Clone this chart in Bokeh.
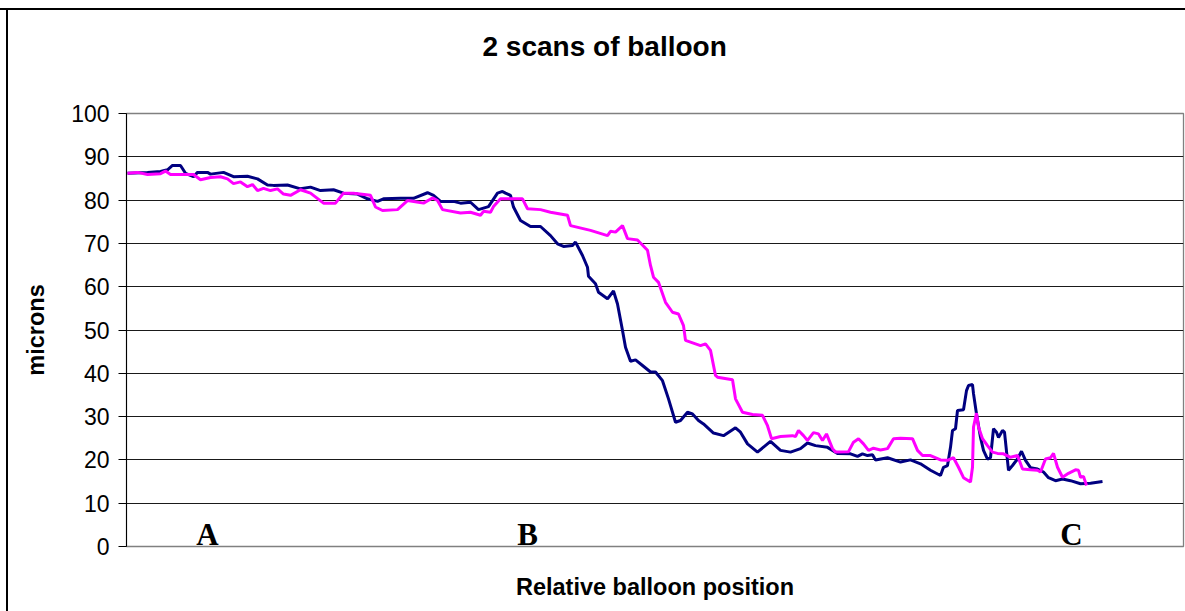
from bokeh.plotting import figure
from bokeh.models import SingleIntervalTicker, Label
from bokeh.embed import file_html
from bokeh.resources import INLINE

# Relative balloon position (arbitrary units) and thickness in microns
scan1_x = [1, 21, 34, 41, 46, 54, 59, 67, 71, 81, 84, 97, 107, 121, 131, 141, 147, 161, 174, 184,
           194, 207, 217, 231, 241, 251, 257, 274, 287, 301, 307, 314, 327, 334, 344, 352, 362, 371,
           376, 379, 384, 387, 394, 404, 414, 424, 431, 437, 446, 449, 456, 461, 462, 469, 472, 481,
           487, 491, 496, 499, 504, 509, 516, 524, 529, 536, 542, 549, 554, 561, 566, 572, 577, 587,
           597, 609, 614, 621, 631, 644, 654, 664, 674, 681, 689, 701, 711, 724, 731, 736, 741, 746,
           749, 761, 774, 784, 794, 804, 814, 817, 821, 824, 826, 829, 831, 837, 840, 842, 846, 847,
           850, 854, 857, 861, 864, 867, 870, 872, 876, 878, 882, 886, 891, 895, 899, 904, 911, 917,
           922, 929, 936, 944, 954, 964, 976]
scan1_y = [86.2, 86.4, 86.6, 87, 88, 88, 86.2, 85.4, 86.4, 86.4, 86, 86.4, 85.4, 85.5, 84.9, 83.5,
           83.4, 83.5, 82.6, 83, 82.2, 82.4, 81.6, 81.4, 80.3, 79.7, 80.3, 80.4, 80.4, 81.7, 81.1,
           79.7, 79.7, 79.3, 79.5, 77.8, 78.5, 81.6, 82, 81.6, 81.1, 78.4, 75.3, 73.9, 73.9, 71.8,
           69.9, 69.3, 69.5, 70.3, 67.2, 64.5, 62.4, 60.7, 58.7, 57.2, 59, 56, 49.9, 46, 42.8, 43.1,
           41.8, 40.3, 40.3, 38.3, 34.1, 28.7, 29.1, 31, 30.6, 29.1, 28.3, 26.2, 25.6, 27.4, 26.4,
           23.7, 21.8, 24.3, 22.2, 21.8, 22.6, 23.9, 23.3, 22.9, 21.5, 21.4, 20.8, 21.4, 21, 21.2,
           20, 20.5, 19.5, 20, 19.1, 17.6, 16.4, 18.3, 18.7, 22.9, 26.8, 27.2, 31.4, 31.6, 36, 37.2,
           37.4, 35.3, 30.6, 25.2, 22.2, 20.2, 20.5, 27.2, 26.4, 25.2, 26.8, 26.4, 17.6, 18.7, 20.2,
           22, 19.9, 18.2, 17.9, 17.2, 15.9, 15.2, 15.6, 15.2, 14.5, 14.6, 15]

scan2_x = [1, 11, 21, 34, 39, 44, 54, 67, 74, 84, 94, 101, 107, 114, 121, 126, 131, 137, 144, 151,
           157, 164, 174, 184, 197, 209, 217, 227, 244, 249, 256, 271, 281, 292, 297, 306, 311, 316,
           334, 344, 354, 357, 364, 367, 374, 396, 401, 414, 424, 441, 444, 464, 481, 484, 489, 496,
           501, 511, 521, 524, 527, 532, 539, 546, 552, 557, 559, 574, 579, 584, 589, 591, 606, 609,
           616, 626, 636, 641, 645, 654, 666, 669, 672, 677, 681, 687, 692, 696, 700, 706, 709, 722,
           727, 732, 737, 742, 747, 754, 761, 767, 774, 786, 791, 796, 804, 814, 821, 827, 832, 837,
           844, 846, 847, 850, 852, 856, 861, 866, 871, 877, 884, 891, 896, 904, 911, 914, 919, 924,
           927, 931, 936, 942, 949, 952, 954, 957, 960]
scan2_y = [86.2, 86.4, 85.9, 86.1, 86.7, 85.9, 85.9, 85.9, 84.7, 85.2, 85.4, 84.9, 83.8, 84.2, 83.1,
           83.6, 82.2, 82.7, 82.2, 82.6, 81.4, 81.1, 82.4, 81.6, 79.3, 79.3, 81.6, 81.6, 81.1, 78.4,
           77.6, 77.8, 79.9, 79.5, 79.3, 80.5, 79.9, 77.8, 77, 77.2, 76.5, 77.4, 77.2, 78.5, 80.3,
           80.3, 78, 77.8, 77.2, 76.5, 74.1, 73, 71.8, 72.8, 72.6, 74.1, 71.1, 70.8, 68.4, 64.9, 62.2,
           61, 56.4, 54.1, 53.7, 51, 47.6, 46.4, 46.8, 45.3, 39.5, 39.1, 38.5, 34.1, 31, 30.5, 30.3,
           27.9, 24.9, 25.4, 25.6, 25.4, 26.8, 25.6, 24.5, 26.3, 26, 24.5, 26, 22.6, 21.8, 21.9, 24.1,
           24.9, 23.7, 22.2, 22.7, 22.3, 22.6, 24.9, 25, 24.9, 22.2, 21, 21, 20, 19.9, 20.5, 18.3,
           15.9, 14.9, 18.3, 27.6, 30.8, 27.6, 24.9, 23.3, 21.8, 21.5, 21.4, 20.6, 21, 17.9, 17.7,
           17.6, 17.2, 20.2, 20.5, 21.5, 18.3, 16, 16.9, 17.7, 17.6, 16, 16.2, 14.1]

marker_text = ["A", "B", "C"]
marker_x = [81, 401, 945]
marker_y = [2.8, 2.8, 2.8]

p = figure(width=1185, height=648, output_backend="svg", toolbar_location=None,
           x_range=(0, 1057), y_range=(0, 100),
           min_border_left=126, min_border_right=2, min_border_top=150, min_border_bottom=65)

# chart-area border (top and left edges visible in the window), drawn behind a transparent canvas border
p.styles = {"margin-top": "-37px",
            "background": ("linear-gradient(#000,#000) 0px 45px / 100% 2px no-repeat, "
                           "linear-gradient(#000,#000) 6px 45px / 2px 100% no-repeat, #ffffff")}

p.title.text = "2 scans of balloon"
p.title.text_font = "Liberation Sans"
p.title.text_font_size = "28px"
p.title.text_font_style = "bold"
p.title.text_color = "black"
p.title.align = "left"
p.title.offset = 356
p.title.standoff = 104

p.outline_line_color = "#808080"
p.outline_line_width = 1.3
p.background_fill_color = "white"
p.border_fill_alpha = 0

p.xgrid.grid_line_color = None
p.ygrid.grid_line_color = "#1a1a1a"
p.ygrid.grid_line_width = 1.2
p.yaxis.ticker = SingleIntervalTicker(interval=10)
p.yaxis.minor_tick_line_color = None
p.yaxis.major_tick_out = 8
p.yaxis.major_tick_in = 0
p.yaxis.major_tick_line_color = "black"
p.yaxis.axis_line_color = "black"
p.yaxis.major_label_text_font = "Liberation Sans"
p.yaxis.major_label_text_font_size = "23px"
p.yaxis.major_label_text_color = "black"
p.yaxis.major_label_standoff = 9
p.yaxis.axis_label = "microns"
p.yaxis.axis_label_text_font = "Liberation Sans"
p.yaxis.axis_label_text_font_size = "23.5px"
p.yaxis.axis_label_text_font_style = "bold"
p.yaxis.axis_label_text_color = "black"
p.yaxis.axis_label_standoff = 19

p.xaxis.ticker = []
p.xaxis.axis_line_color = "#808080"
p.xaxis.major_tick_line_color = None
p.xaxis.minor_tick_line_color = None
p.xaxis.axis_label = "Relative balloon position"
p.xaxis.axis_label_text_font = "Liberation Sans"
p.xaxis.axis_label_text_font_size = "23.5px"
p.xaxis.axis_label_text_font_style = "bold"
p.xaxis.axis_label_text_color = "black"
p.xaxis.axis_label_standoff = 27

p.line(scan1_x, scan1_y, line_color="#000080", line_width=3)
p.line(scan2_x, scan2_y, line_color="#FF00FF", line_width=3)

for t, xx, yy in zip(marker_text, marker_x, marker_y):
    p.add_layout(Label(x=xx, y=yy, text=t, text_font="Liberation Serif", text_font_size="31px",
                       text_font_style="bold", text_align="center", text_baseline="alphabetic",
                       text_color="black"))

open("out.html", "w").write(file_html(p, INLINE))
